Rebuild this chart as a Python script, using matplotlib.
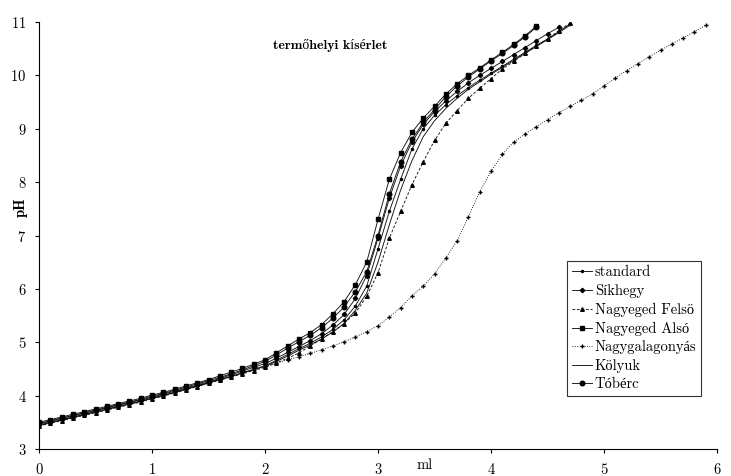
import numpy as np
import matplotlib
matplotlib.use("Agg")
import matplotlib.pyplot as plt

# pH readings every 0.1 ml of titrant
standard = [3.45, 3.50, 3.55, 3.60, 3.65, 3.70, 3.75, 3.80, 3.85, 3.90,
            3.95, 4.01, 4.06, 4.12, 4.18, 4.24, 4.30, 4.36, 4.43, 4.49,
            4.56, 4.66, 4.77, 4.88, 4.98, 5.10, 5.24, 5.42, 5.68, 6.05,
            6.75, 7.45, 8.05, 8.62, 9.00, 9.25, 9.45, 9.62, 9.77, 9.91,
            10.04, 10.17, 10.30, 10.43, 10.56, 10.68, 10.82, 10.96]
sikhegy = [3.47, 3.52, 3.57, 3.62, 3.67, 3.72, 3.77, 3.82, 3.87, 3.92,
           3.97, 4.03, 4.08, 4.14, 4.20, 4.26, 4.32, 4.39, 4.46, 4.53,
           4.60, 4.70, 4.81, 4.92, 5.03, 5.16, 5.32, 5.52, 5.82, 6.25,
           6.95, 7.70, 8.30, 8.75, 9.08, 9.32, 9.52, 9.70, 9.86, 10.00,
           10.13, 10.26, 10.39, 10.52, 10.65, 10.78, 10.90]
ny_felso = [3.43, 3.48, 3.53, 3.58, 3.63, 3.68, 3.73, 3.78, 3.83, 3.88,
            3.94, 3.99, 4.05, 4.11, 4.17, 4.23, 4.29, 4.35, 4.41, 4.47,
            4.53, 4.61, 4.70, 4.80, 4.93, 5.06, 5.20, 5.35, 5.55, 5.86,
            6.30, 6.95, 7.45, 7.95, 8.38, 8.78, 9.10, 9.34, 9.57, 9.76,
            9.94, 10.12, 10.26, 10.41, 10.55, 10.68, 10.84, 10.98]
ny_also = [3.50, 3.55, 3.60, 3.65, 3.70, 3.75, 3.80, 3.85, 3.90, 3.95,
           4.01, 4.06, 4.12, 4.18, 4.24, 4.30, 4.37, 4.44, 4.51, 4.59,
           4.67, 4.80, 4.93, 5.06, 5.18, 5.33, 5.53, 5.76, 6.08, 6.50,
           7.30, 8.05, 8.55, 8.93, 9.20, 9.42, 9.65, 9.84, 10.00, 10.14,
           10.29, 10.43, 10.58, 10.74, 10.92]
galagonyas = [3.44, 3.49, 3.54, 3.59, 3.64, 3.69, 3.74, 3.79, 3.84, 3.89,
              3.95, 4.00, 4.06, 4.12, 4.18, 4.24, 4.30, 4.36, 4.42, 4.48,
              4.54, 4.61, 4.67, 4.73, 4.79, 4.86, 4.93, 5.01, 5.10, 5.20,
              5.31, 5.47, 5.65, 5.87, 6.05, 6.28, 6.58, 6.90, 7.35, 7.82,
              8.20, 8.52, 8.75, 8.90, 9.04, 9.17, 9.30, 9.42, 9.53, 9.66,
              9.80, 9.95, 10.09, 10.22, 10.35, 10.47, 10.59, 10.70, 10.82, 10.94]
kolyuk = [3.44, 3.49, 3.54, 3.59, 3.64, 3.69, 3.74, 3.79, 3.84, 3.89,
          3.95, 4.00, 4.06, 4.12, 4.18, 4.24, 4.30, 4.36, 4.42, 4.49,
          4.55, 4.64, 4.74, 4.85, 4.95, 5.06, 5.19, 5.35, 5.60, 5.92,
          6.50, 7.20, 7.85, 8.40, 8.85, 9.15, 9.38, 9.57, 9.74, 9.88,
          10.02, 10.15, 10.28, 10.41, 10.54, 10.67, 10.80, 10.94]
toberc = [3.48, 3.53, 3.58, 3.63, 3.68, 3.73, 3.78, 3.83, 3.88, 3.93,
          3.99, 4.04, 4.10, 4.16, 4.22, 4.28, 4.34, 4.41, 4.48, 4.56,
          4.64, 4.76, 4.89, 5.01, 5.13, 5.27, 5.45, 5.66, 5.95, 6.32,
          7.00, 7.78, 8.38, 8.80, 9.12, 9.36, 9.60, 9.80, 9.97, 10.12,
          10.27, 10.41, 10.56, 10.72, 10.90]

STEP = 0.1  # ml between readings

series = [
    ("standard",        standard,   dict(marker=".", ms=3, ls="-")),
    ("Síkhegy",         sikhegy,    dict(marker="D", ms=2.2, ls="-")),
    ("Nagyeged Felsö",  ny_felso,   dict(marker="^", ms=2.6, ls=(0, (3, 2)))),
    ("Nagyeged Alsó",   ny_also,    dict(marker="s", ms=3.0, ls="-")),
    ("Nagygalagonyás",  galagonyas, dict(marker="+", ms=2.5, ls=":")),
    ("Kölyuk",          kolyuk,     dict(marker=None, ls="-")),
    ("Tóbérc",          toberc,     dict(marker="o", ms=3.3, ls="-")),
]

plt.rcParams["font.family"] = ["cmr10", "Liberation Serif"]
plt.rcParams["axes.formatter.use_mathtext"] = True
BOLD = ["cmb10", "Liberation Serif"]

fig = plt.figure(figsize=(7.31, 4.76), dpi=100)
ax = fig.add_axes([39 / 731, 27 / 476, 678 / 731, 427 / 476])

for name, ys, st in series:
    xs = np.round(np.arange(len(ys)) * STEP, 1)
    ax.plot(xs, ys, color="#111111", lw=0.65, mec="black", mfc="black",
            label=name, **st)

ax.set_xlim(0, 6)
ax.set_ylim(3, 11)
ax.set_xticks(range(0, 7))
ax.set_yticks(range(3, 12))
ax.spines["top"].set_visible(False)
ax.spines["right"].set_visible(False)
ax.spines["left"].set_linewidth(0.8)
ax.spines["bottom"].set_linewidth(0.8)
ax.tick_params(direction="out", length=3, width=0.8, labelsize=10.5, pad=6)

ax.text(0.569, -0.037, "ml", transform=ax.transAxes, ha="center",
        va="center", fontsize=10.5)
ax.text(-0.027, 0.565, "pH", transform=ax.transAxes, ha="center",
        va="center", rotation=90, fontsize=10.5, family=BOLD)
ax.text(2.58, 10.56, "termőhelyi kísérlet", ha="center", va="center",
        fontsize=10, family=BOLD)

leg = ax.legend(loc="upper left", bbox_to_anchor=(0.779, 0.44),
                frameon=True, fancybox=False, edgecolor="black",
                numpoints=1, handlelength=1.4, handletextpad=0.2,
                labelspacing=0.32, borderpad=0.3, fontsize=10.5,
                borderaxespad=0)
leg.get_frame().set_linewidth(0.8)

fig.savefig("out.png", dpi=100)
